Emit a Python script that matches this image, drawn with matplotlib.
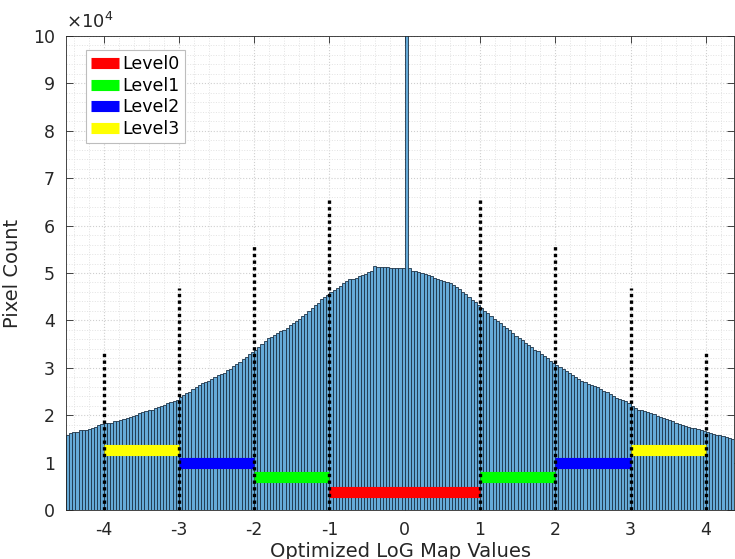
import matplotlib
matplotlib.use("Agg")
import matplotlib.pyplot as plt
from matplotlib.lines import Line2D
import numpy as np

# histogram: bins of width 1/24 starting at -4.5 (213 bins, last edge 4.375)
bin_start = -4.5
bin_width = 1.0 / 24
counts = [
    # -4.5 .. -4
    15800, 16300, 16500, 16500, 16800, 16800, 16900, 17100, 17300, 17600, 17900, 18200,
    # -4 .. -3
    18300, 18400, 18400, 18700, 18800, 19000, 19200, 19400, 19700, 19800, 20100, 20400,
    20600, 20800, 21200, 21200, 21500, 21800, 22000, 22200, 22500, 22800, 23100, 23300,
    # -3 .. -2
    23800, 24200, 24600, 25000, 25500, 26000, 26300, 26700, 27000, 27300, 27700, 28100,
    28400, 28600, 29000, 29500, 29800, 30300, 30700, 31200, 31800, 32300, 32900, 33300,
    # -2 .. -1
    33700, 34300, 35000, 35700, 36300, 36600, 37000, 37300, 37800, 38000, 38500, 39100,
    39400, 39800, 40400, 41000, 41400, 42000, 42700, 43200, 43700, 44600, 44900, 45400,
    # -1 .. 0
    45900, 46500, 46900, 47300, 47800, 48300, 48700, 48800, 49000, 49300, 49600, 49800,
    50300, 50400, 51400, 51300, 51300, 51200, 51300, 51000, 51000, 51000, 51100, 51100,
    # 0 .. 1  (spike in the first bin)
    128000, 51000, 50400, 50500, 50300, 50000, 49800, 49500, 49300, 49000, 48800, 48600,
    48400, 48200, 47900, 47500, 47100, 46600, 46000, 45500, 44900, 44300, 43800, 43300,
    # 1 .. 2
    42600, 42000, 41500, 41000, 40300, 39900, 39400, 38800, 38400, 37900, 37300, 36700,
    36200, 35800, 35300, 34800, 34400, 33800, 33500, 32900, 32400, 32000, 31400, 31000,
    # 2 .. 3
    30600, 30100, 29700, 29300, 28800, 28400, 28100, 27700, 27300, 27000, 26600, 26300,
    26100, 25900, 25500, 25100, 24800, 24400, 24000, 23700, 23400, 23200, 22900, 22600,
    # 3 .. 4
    21900, 21600, 21200, 21100, 20800, 20600, 20500, 20200, 19900, 19600, 19400, 19100,
    18900, 18700, 18400, 18200, 18000, 17800, 17600, 17400, 17200, 17100, 16900, 16700,
    # 4 .. 4.375
    16500, 16300, 16100, 15900, 15800, 15600, 15400, 15200, 15000,
]

# dotted boundary markers
marker_x = [-4, -3, -2, -1, 1, 2, 3, 4]
marker_h = [33300, 46800, 55700, 65800, 65800, 55700, 46900, 33200]

# level segments
level_names = ["Level0", "Level1", "Level2", "Level3"]
level_colors = ["#ff0000", "#00ff00", "#0000ff", "#ffff00"]
level_y = [3900, 7050, 10000, 12700]
level_segments = [
    [(-1, 1)],
    [(-2, -1), (1, 2)],
    [(-3, -2), (2, 3)],
    [(-4, -3), (3, 4)],
]

xticks = [-4, -3, -2, -1, 0, 1, 2, 3, 4]
xticklabels = ["-4", "-3", "-2", "-1", "0", "1", "2", "3", "4"]
yticks = [0, 10000, 20000, 30000, 40000, 50000, 60000, 70000, 80000, 90000, 100000]
yticklabels = ["0", "1", "2", "3", "4", "5", "6", "7", "8", "9", "10"]

plt.rcParams["font.family"] = "DejaVu Sans"
plt.rcParams["mathtext.fontset"] = "dejavusans"

fig = plt.figure(figsize=(7.35, 5.59), dpi=100)
ax = fig.add_axes([66 / 735, 49 / 559, 668 / 735, 474 / 559])

edges = bin_start + bin_width * np.arange(len(counts))
face = (0.4, 0.668, 0.845)
ax.bar(edges, counts, width=bin_width, align="edge", color=face,
       edgecolor="#1d3347", linewidth=0.6, zorder=2)

for name, col, y, segs in zip(level_names, level_colors, level_y, level_segments):
    for a, b in segs:
        ax.plot([a, b], [y, y], color=col, lw=8, solid_capstyle="butt", zorder=3)

for x, h in zip(marker_x, marker_h):
    ax.plot([x, x], [0, h], color="black", lw=2.4, ls=(0, (1, 1)), zorder=4)

ax.set_xlim(-4.5, 4.375)
ax.set_ylim(0, 100000)
ax.set_xticks(xticks)
ax.set_xticklabels(xticklabels)
ax.set_yticks(yticks)
ax.set_yticklabels(yticklabels)
ax.set_xticks(np.arange(-4.4, 4.4, 0.2), minor=True)
ax.set_yticks(np.arange(0, 100001, 2000), minor=True)

ax.grid(which="major", color="#cfcfcf", ls=":", lw=0.8, zorder=0)
ax.grid(which="minor", color="#e2e2e2", ls=":", lw=0.7, zorder=0)
ax.set_axisbelow(True)

ax.tick_params(which="major", direction="in", top=True, right=True, length=5,
               width=0.6, color="#262626", labelsize=12.5, labelcolor="#262626", pad=8)
ax.tick_params(which="minor", length=0, top=True, right=True)
for s in ax.spines.values():
    s.set_color("#262626")
    s.set_linewidth(0.6)

ax.set_xlabel("Optimized LoG Map Values", fontsize=14, color="#262626", labelpad=2)
ax.set_ylabel("Pixel Count", fontsize=14, color="#262626", labelpad=8)
ax.text(0, 1.008, r"$\times10^{4}$", transform=ax.transAxes, fontsize=13,
        color="#262626", ha="left", va="bottom")

handles = [Line2D([0], [0], color=c, lw=8, solid_capstyle="butt") for c in level_colors]
leg = ax.legend(handles, level_names, loc="upper left", bbox_to_anchor=(0.03, 0.97),
                borderaxespad=0, fontsize=12.5, handlelength=1.6, handletextpad=0.2,
                labelspacing=0.2, borderpad=0.3, fancybox=False, framealpha=1,
                edgecolor="#bdbdbd")
leg.get_frame().set_linewidth(0.8)

fig.savefig("out.png", dpi=100)
